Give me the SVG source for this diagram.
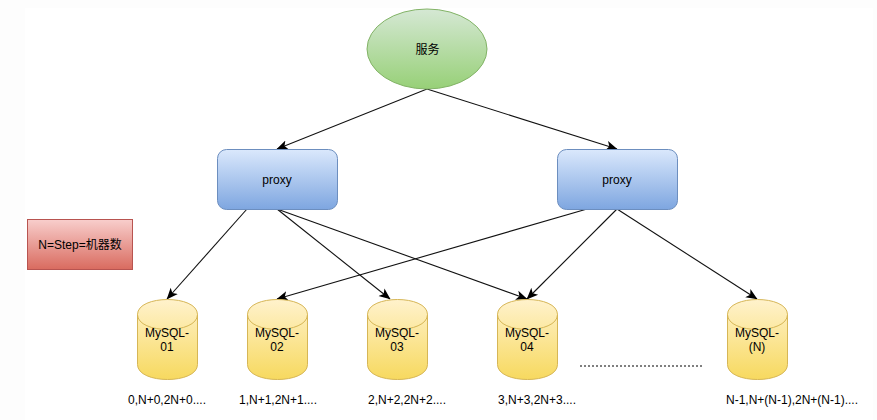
<svg xmlns="http://www.w3.org/2000/svg" width="877" height="420" viewBox="0 0 877 420">
<style>
text{font-family:"Liberation Sans","Noto Sans CJK SC",sans-serif;font-size:12px;fill:#000;text-anchor:middle}
.c{fill:none;stroke:#111;stroke-width:1.1;marker-end:url(#a)}
.db{fill:url(#y);stroke:#d6b656;stroke-width:1}
.lid{fill:none;stroke:#d6b656;stroke-width:1}
.p{fill:url(#b);stroke:#6c8ebf;stroke-width:1}
</style>
<defs>
<linearGradient id="g" x1="0" y1="0" x2="0" y2="1"><stop offset="0" stop-color="#d5e8d4"/><stop offset="1" stop-color="#97d077"/></linearGradient>
<linearGradient id="b" x1="0" y1="0" x2="0" y2="1"><stop offset="0" stop-color="#dae8fc"/><stop offset="1" stop-color="#7ea6e0"/></linearGradient>
<linearGradient id="r" x1="0" y1="0" x2="0" y2="1"><stop offset="0" stop-color="#f8cecc"/><stop offset="1" stop-color="#d96b5f"/></linearGradient>
<linearGradient id="y" x1="0" y1="0" x2="0" y2="1"><stop offset="0" stop-color="#fff2cc"/><stop offset="1" stop-color="#f7d95f"/></linearGradient>
<marker id="a" viewBox="0 0 10 10" refX="9.5" refY="5" markerWidth="11.500" markerHeight="11.500" markerUnits="userSpaceOnUse" orient="auto"><path d="M0 0.8L10 5L0 9.2L2.5 5Z" fill="#000"/></marker>
<path id="cyl" d="M0 15C0-5 60-5 60 15V65C60 85 0 85 0 65Z"/>
</defs>
<rect width="877" height="420" fill="#fdfdfd"/>
<rect x="25" y="8" width="848" height="412" fill="#fff"/>
<g id="connectors">
<path class="c" d="M427 89L277 149"/>
<path class="c" d="M427 89L617 149"/>
<path class="c" d="M247 209L167 299"/>
<path class="c" d="M277 209L390 299"/>
<path class="c" d="M277 209L527 299"/>
<path class="c" d="M587 209L277 299"/>
<path class="c" d="M617 209L527 299"/>
<path class="c" d="M617 209L757 299"/>
<path d="M580 366H703" fill="none" stroke="#000" stroke-width="1" stroke-dasharray="2 2"/>
</g>
<g id="service"><ellipse cx="427" cy="49" rx="60" ry="40" fill="url(#g)" stroke="#82b366"/><text x="427.500" y="54">服务</text></g>
<g id="proxy1"><rect class="p" x="217.500" y="149.500" width="120" height="60" rx="9"/><text x="277" y="184">proxy</text></g>
<g id="proxy2"><rect class="p" x="557.500" y="149.500" width="120" height="60" rx="9"/><text x="617" y="184">proxy</text></g>
<g id="legend"><rect x="27.500" y="219.500" width="105" height="50" fill="url(#r)" stroke="#b85450"/><text x="80" y="249">N=Step=机器数</text></g>
<g id="mysql01"><use href="#cyl" class="db" x="137.500" y="299.500"/><path class="lid" d="M137.500 314.500C137.500 334.500 197.500 334.500 197.500 314.500"/><text x="167" y="337">MySQL-</text><text x="167" y="351">01</text></g>
<g id="mysql02"><use href="#cyl" class="db" x="247.500" y="299.500"/><path class="lid" d="M247.500 314.500C247.500 334.500 307.500 334.500 307.500 314.500"/><text x="277" y="337">MySQL-</text><text x="277" y="351">02</text></g>
<g id="mysql03"><use href="#cyl" class="db" x="367.500" y="299.500"/><path class="lid" d="M367.500 314.500C367.500 334.500 427.500 334.500 427.500 314.500"/><text x="397" y="337">MySQL-</text><text x="397" y="351">03</text></g>
<g id="mysql04"><use href="#cyl" class="db" x="497.500" y="299.500"/><path class="lid" d="M497.500 314.500C497.500 334.500 557.500 334.500 557.500 314.500"/><text x="527" y="337">MySQL-</text><text x="527" y="351">04</text></g>
<g id="mysqlN"><use href="#cyl" class="db" x="727.500" y="299.500"/><path class="lid" d="M727.500 314.500C727.500 334.500 787.500 334.500 787.500 314.500"/><text x="757" y="337">MySQL-</text><text x="757" y="351">(N)</text></g>
<g id="labels">
<text x="167" y="404">0,N+0,2N+0....</text>
<text x="278" y="404">1,N+1,2N+1....</text>
<text x="407" y="404">2,N+2,2N+2....</text>
<text x="537" y="404">3,N+3,2N+3....</text>
<text x="792" y="404">N-1,N+(N-1),2N+(N-1)....</text>
</g>
</svg>
